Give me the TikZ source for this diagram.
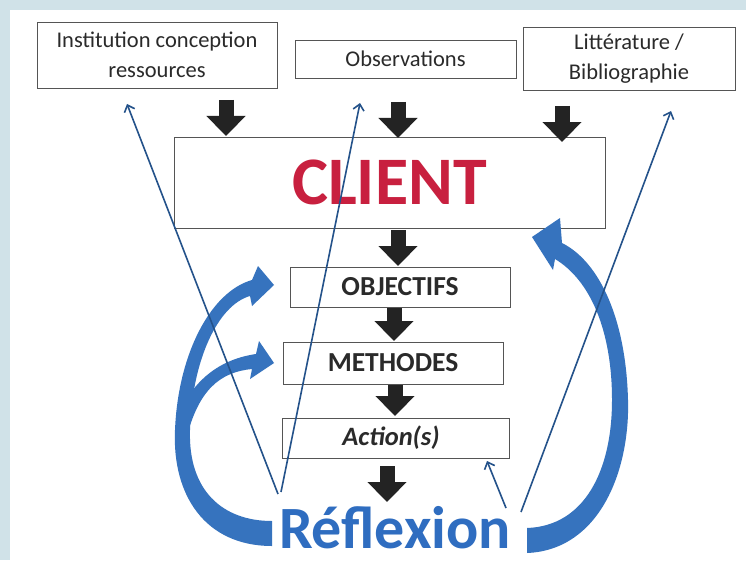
\documentclass[tikz,border=0pt]{standalone}
\usepackage{fontspec}
\setmainfont{Carlito}
\usetikzlibrary{arrows.meta}
\definecolor{bgband}{HTML}{D0E2E8}
\definecolor{boxgray}{HTML}{555555}
\definecolor{txtgray}{HTML}{2A2A2A}
\definecolor{clientred}{HTML}{C8203F}
\definecolor{reflblue}{HTML}{2F6DC0}
\definecolor{arcblue}{HTML}{3673BE}
\definecolor{linkblue}{HTML}{24528A}
\definecolor{blockblack}{HTML}{232323}
\begin{document}
\begin{tikzpicture}[x=1pt,y=-1pt,
  box/.style={draw=boxgray, line width=0.9pt, fill=white, inner sep=0pt, align=center, text=txtgray},
  boxtext/.style={font=\fontsize{22.5}{30}\selectfont},
  steptext/.style={font=\bfseries\fontsize{27.5}{27.5}\selectfont},
  blockarrow/.style={blockblack, line width=15pt, -{Triangle[length=20pt,width=38pt]}},
  linkline/.style={linkblue, line width=1.6pt, -{Straight Barb[length=6pt,width=11pt]}},
  bigarc/.style={fill=arcblue}]
\useasboundingbox (0,0) rectangle (746,575);
\fill[white] (0,0) rectangle (746,575);
\fill[bgband] (0,0) rectangle (746,10);
\fill[bgband] (0,0) rectangle (10,560);

% top boxes
\node[box, boxtext, minimum width=240pt, minimum height=66pt] (inst) at (157,55) {Institution conception\\ressources};
\node[box, boxtext, minimum width=221pt, minimum height=38pt] (obs) at (405.5,59) {Observations};
\node[box, boxtext, minimum width=212pt, minimum height=63pt] (litt) at (629,58.5) {Littérature /\\Bibliographie};

% client
\node[box, minimum width=431pt, minimum height=91pt, text=clientred,
      font=\bfseries\fontsize{68}{68}\selectfont] (client) at (389.5,182.5) {CLIENT};

% steps
\node[box, steptext, minimum width=220pt, minimum height=40pt] (obj) at (400,287) {OBJECTIFS};
\node[box, steptext, minimum width=220pt, minimum height=42pt] (meth) at (393,363) {METHODES};
\node[box, minimum width=227pt, minimum height=40pt, font=\bfseries\itshape\fontsize{26.5}{26.5}\selectfont] (act) at (396,438) {\hspace*{-10pt}Action(s)};

% reflexion
\node[anchor=base, text=reflblue, font=\bfseries\fontsize{60}{60}\selectfont, inner sep=0pt] (refl) at (395,548) {Réflexion};

% block arrows
\coordinate (b1s) at (226,100); \coordinate (b1e) at (226,136);
\coordinate (b2s) at (398,102); \coordinate (b2e) at (398,138);
\coordinate (b3s) at (562,106); \coordinate (b3e) at (562,142);
\coordinate (b4s) at (398,230); \coordinate (b4e) at (398,266);
\coordinate (b5s) at (394,308); \coordinate (b5e) at (394,341);
\coordinate (b6s) at (395,385); \coordinate (b6e) at (395,416);
\coordinate (b7s) at (387,466); \coordinate (b7e) at (387,502);
\draw[blockarrow] (b1s) -- (b1e);
\draw[blockarrow] (b2s) -- (b2e);
\draw[blockarrow] (b3s) -- (b3e);
\draw[blockarrow] (b4s) -- (b4e);
\draw[blockarrow] (b5s) -- (b5e);
\draw[blockarrow] (b6s) -- (b6e);
\draw[blockarrow] (b7s) -- (b7e);

% big blue curved arrows
\fill[bigarc] (272,546) .. controls (205,546) and (172,495) .. (175,430)
  .. controls (178,355) and (210,292) .. (252,280) -- (258,266) -- (274,285) -- (252,306) -- (250,296)
  .. controls (218,305) and (192,360) .. (190,430)
  .. controls (188,490) and (222,521) .. (272,521) -- cycle;
\fill[bigarc] (176,420) .. controls (190,385) and (215,360) .. (256,354) -- (259,341) -- (274,363)
  -- (250,379) -- (252,369) .. controls (220,372) and (198,390) .. (186,440) -- cycle;
\fill[bigarc] (527,553) .. controls (600,550) and (630,470) .. (628,400)
  .. controls (626,320) and (600,262) .. (562,243) -- (560,218) -- (532,237) -- (553,270) -- (555,259)
  .. controls (590,280) and (612,330) .. (612,400)
  .. controls (612,470) and (585,526) .. (527,528) -- cycle;

% thin links
\coordinate (l1s) at (278,494); \coordinate (l1e) at (127,104);
\coordinate (l2s) at (281,492); \coordinate (l2e) at (360,103);
\coordinate (l3s) at (521,512); \coordinate (l3e) at (671,111);
\coordinate (l4s) at (506,508); \coordinate (l4e) at (487,461);
\draw[linkline] (l1s) -- (l1e);
\draw[linkline] (l2s) -- (l2e);
\draw[linkline] (l3s) -- (l3e);
\draw[linkline] (l4s) -- (l4e);
\end{tikzpicture}
\end{document}
